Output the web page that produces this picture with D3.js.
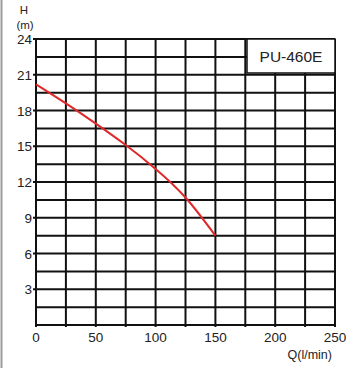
<!DOCTYPE html>
<html><head><meta charset="utf-8">
<script src="https://cdn.jsdelivr.net/npm/d3@7"></script>
<style>body{margin:0;background:#fff}svg{display:block}text{font-family:"Liberation Sans",Arial,sans-serif;fill:#222}</style>
</head><body><svg id="c" width="356" height="368"></svg>
<script>
const flow = [0, 25, 50, 75, 100, 125, 150];
const head = [20.2, 18.6, 16.9, 15.1, 13.1, 10.7, 7.5];
const xTicks = [0, 50, 100, 150, 200, 250];
const yTicks = [3, 6, 9, 12, 15, 18, 21, 24];
const xGrid = d3.range(0, 251, 25);
const yGrid = d3.range(0, 24.01, 1.5);
const modelName = "PU-460E";

const svg = d3.select("#c");
const L = 36, R = 335, T = 39, B = 325;
const x = d3.scaleLinear().domain([0, 250]).range([L, R]);
const y = d3.scaleLinear().domain([0, 24]).range([B, T]);

svg.append("rect").attr("x", 0.5).attr("y", 0).attr("width", 2).attr("height", 368).attr("fill", "#9a9a9a");

const g = svg.append("g");
g.selectAll("line.v").data(xGrid).join("line")
  .attr("x1", d => x(d)).attr("x2", d => x(d)).attr("y1", T).attr("y2", B + 2)
  .attr("stroke", "#111").attr("stroke-width", 2);
g.selectAll("line.h").data(yGrid).join("line")
  .attr("y1", d => y(d)).attr("y2", d => y(d))
  .attr("x1", d => yTicks.includes(d) ? L - 3 : L).attr("x2", R)
  .attr("stroke", "#111").attr("stroke-width", 2);

// legend box
const bx = 247, by = T, bw = R - 247, bh = 34;
svg.append("rect").attr("x", bx).attr("y", by).attr("width", bw).attr("height", bh)
  .attr("fill", "#fff").attr("stroke", "#111").attr("stroke-width", 1.5);
svg.append("text").attr("x", bx + bw / 2).attr("y", by + bh / 2 + 5.5)
  .attr("text-anchor", "middle").attr("font-size", 15.5).text(modelName);

// curve
svg.append("path").datum(flow.map((q, i) => [q, head[i]]))
  .attr("d", d3.line().x(d => x(d[0])).y(d => y(d[1])).curve(d3.curveNatural))
  .attr("fill", "none").attr("stroke", "#e0282a").attr("stroke-width", 2);

// tick labels
svg.selectAll("text.yt").data(yTicks).join("text")
  .attr("x", 32).attr("y", d => y(d)).attr("dy", "0.38em")
  .attr("text-anchor", "end").attr("font-size", 13.5).text(d => d);
svg.selectAll("text.xt").data(xTicks).join("text")
  .attr("x", d => x(d)).attr("y", 342)
  .attr("text-anchor", "middle").attr("font-size", 13.5).text(d => d);

svg.append("text").attr("x", 24).attr("y", 14).attr("text-anchor", "middle").attr("font-size", 11.5).text("H");
svg.append("text").attr("x", 25).attr("y", 29).attr("text-anchor", "middle").attr("font-size", 11.5).text("(m)");
svg.append("text").attr("x", 332).attr("y", 359).attr("text-anchor", "end").attr("font-size", 12.5).text("Q(l/min)");
</script></body></html>
